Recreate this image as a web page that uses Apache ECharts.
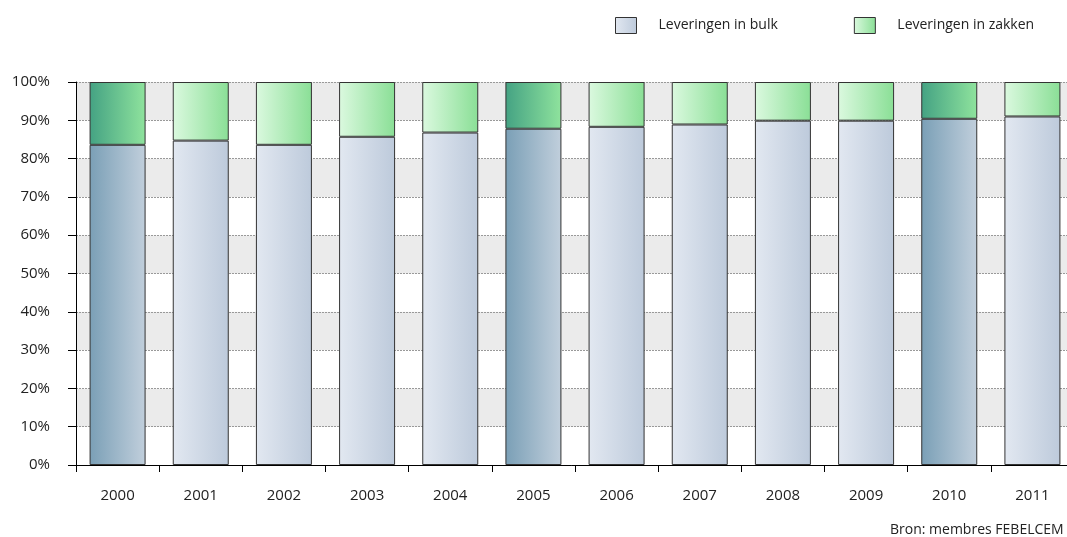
<!DOCTYPE html>
<html><head><meta charset="utf-8">
<script src="https://cdn.jsdelivr.net/npm/echarts@6/dist/echarts.min.js"></script>
<style>html,body{margin:0;padding:0;background:#fff}#c{width:1067px;height:537px}</style>
</head><body><div id="c"></div>
<script>
const years = ['2000','2001','2002','2003','2004','2005','2006','2007','2008','2009','2010','2011'];
const bulk = [83.6, 84.7, 83.6, 85.7, 86.8, 87.8, 88.3, 88.9, 89.9, 89.9, 90.4, 91.0];
const zakken = [16.4, 15.3, 16.4, 14.3, 13.2, 12.2, 11.7, 11.1, 10.1, 10.1, 9.6, 9.0];
const highlighted = ['2000','2005','2010'];
const yTicks = ['0%','10%','20%','30%','40%','50%','60%','70%','80%','90%','100%'];
const seriesNames = ['Leveringen in bulk','Leveringen in zakken'];
const sourceText = 'Bron: membres FEBELCEM';

function grad(a,b){return {type:'linear',x:0,y:0,x2:1,y2:0,colorStops:[{offset:0,color:a},{offset:1,color:b}]};}
const bulkNormal = grad('#e2e8f1','#bdcadb');
const bulkDark = grad('#7a9fb6','#c1cfdc');
const zakNormal = grad('#dbf9df','#8adf96');
const zakDark = grad('#44a283','#8fe39d');
const FONT = 'Open Sans';

function items(vals, normal, dark){
  return vals.map((v,i)=>({value:v, itemStyle:{color: highlighted.includes(years[i]) ? dark : normal}}));
}

const chart = echarts.init(document.getElementById('c'));
chart.setOption({
  animation:false,
  textStyle:{fontFamily:FONT},
  title:{text:sourceText, left:890, top:523, padding:0, textStyle:{fontSize:14, fontWeight:'normal', color:'#222', fontFamily:FONT}},
  legend:{
    left:615, top:17, padding:0, itemWidth:21, itemHeight:16, itemGap:76,
    textStyle:{fontSize:14, color:'#222', fontFamily:FONT, padding:[0,0,0,17]},
    data:[
      {name:seriesNames[0], icon:'rect', itemStyle:{color:bulkNormal, borderColor:'#333', borderWidth:1}},
      {name:seriesNames[1], icon:'rect', itemStyle:{color:zakNormal, borderColor:'#333', borderWidth:1}}
    ]
  },
  grid:{left:76, width:998, top:82, height:383, containLabel:false, outerBoundsMode:'none'},
  xAxis:{
    type:'category', data:years,
    axisLine:{lineStyle:{color:'#000', width:1}},
    axisTick:{show:true, length:7, lineStyle:{color:'#000'}},
    axisLabel:{fontSize:15, color:'#222', margin:23, fontFamily:FONT}
  },
  yAxis:{
    type:'value', min:0, max:100, interval:10,
    axisLine:{show:true, lineStyle:{color:'#000', width:1}},
    axisTick:{show:true, length:8, lineStyle:{color:'#000'}},
    axisLabel:{fontSize:15, color:'#222', margin:26, fontFamily:FONT,
      formatter:(v)=>yTicks[Math.round(v/10)]},
    splitLine:{show:true, lineStyle:{color:'#999', type:[2,1], width:1}},
    splitArea:{show:true, areaStyle:{color:['#ffffff','#ebebeb']}}
  },
  series:[
    {name:seriesNames[0], type:'bar', stack:'t', barWidth:56,
     itemStyle:{borderColor:'#333', borderWidth:1, color:bulkNormal},
     data:items(bulk, bulkNormal, bulkDark)},
    {name:seriesNames[1], type:'bar', stack:'t', barWidth:56,
     itemStyle:{borderColor:'#333', borderWidth:1, color:zakNormal},
     data:items(zakken, zakNormal, zakDark)}
  ]
});
</script></body></html>
